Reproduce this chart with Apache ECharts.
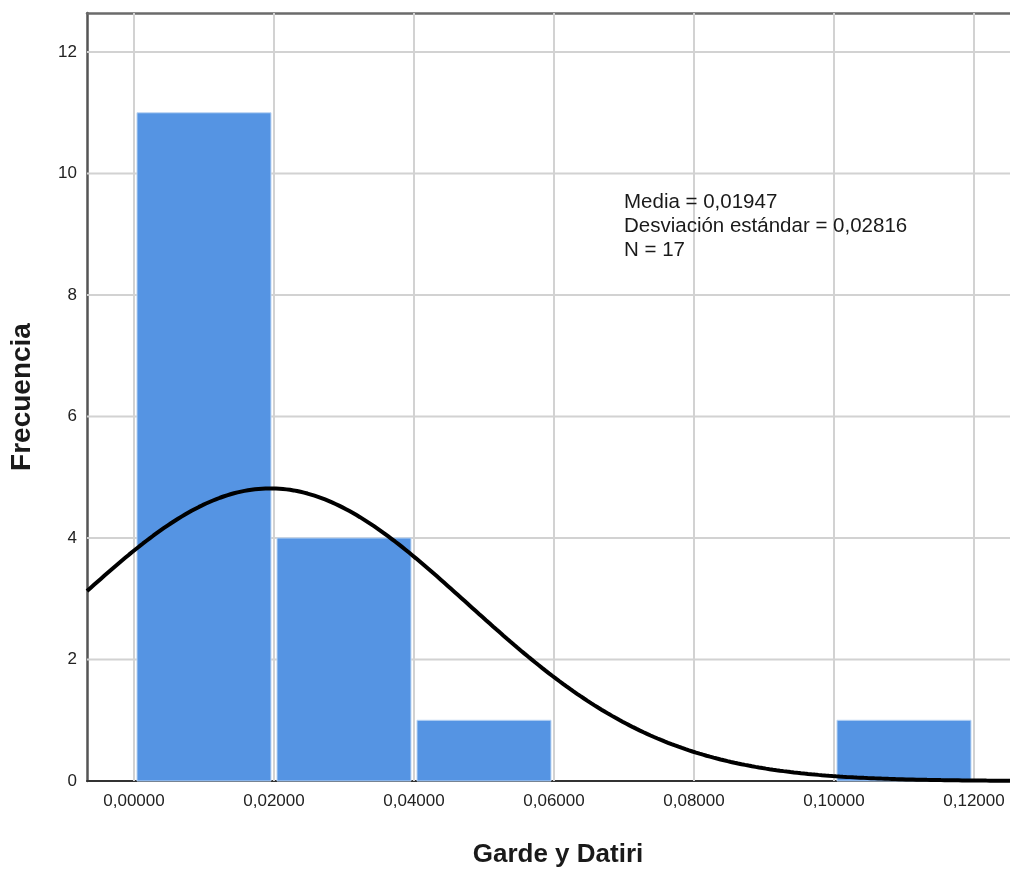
<!DOCTYPE html>
<html>
<head>
<meta charset="utf-8">
<script src="https://cdn.jsdelivr.net/npm/echarts@6/dist/echarts.min.js"></script>
<style>
  html, body { margin: 0; padding: 0; background: #fff; }
  #chart { width: 1010px; height: 871px; }
</style>
</head>
<body>
<div id="chart"></div>
<script>
// Histogram bins (lower edge, upper edge) and frequencies
const binStart = [0.00, 0.02, 0.04, 0.06, 0.08, 0.10];
const binEnd   = [0.02, 0.04, 0.06, 0.08, 0.10, 0.12];
const counts   = [11, 4, 1, 0, 0, 1];

// Summary statistics shown in the annotation
const media = 0.01947;
const desviacion = 0.02816;
const n = 17;
const binWidth = 0.02;

// Axis extents and tick values
const xMin = -0.006714;
const xMax = 0.125143;
const xTicks = [0.00, 0.02, 0.04, 0.06, 0.08, 0.10, 0.12];
const yMin = 0;
const yMax = 12.642;
const yTicks = [0, 2, 4, 6, 8, 10, 12];

// Fitted normal curve scaled to frequency (N * bin width * density)
const normalFreq = x => {
  const z = (x - media) / desviacion;
  return n * binWidth * Math.exp(-0.5 * z * z) / (desviacion * Math.sqrt(2 * Math.PI));
};
const curveStep = 0.0005;
const curve = [];
for (let x = xMin; x < xMax; x += curveStep) curve.push([x, normalFreq(x)]);
curve.push([xMax, normalFreq(xMax)]);

const bars = binStart.map((s, i) => [s, binEnd[i], counts[i]]).filter(d => d[2] > 0);
const comma = v => v.toFixed(5).replace('.', ',');
const FONT = '"Liberation Sans", Arial, sans-serif';

const chart = echarts.init(document.getElementById('chart'), null, { renderer: 'canvas' });
chart.setOption({
  animation: false,
  backgroundColor: '#ffffff',
  textStyle: { fontFamily: FONT },
  grid: { left: 87, right: 0, top: 13, bottom: 90, show: false },
  xAxis: [
    {
      type: 'value',
      min: xMin, max: xMax,
      axisLine: { show: true, onZero: false, lineStyle: { color: '#333', width: 2 } },
      axisTick: { show: false, customValues: xTicks },
      axisLabel: { customValues: xTicks, formatter: v => comma(v), fontSize: 17, color: '#222', margin: 12 },
      splitLine: { show: false }
    },
    {
      // frame line along the top of the plot
      type: 'value',
      position: 'top',
      min: xMin, max: xMax,
      axisLine: { show: true, onZero: false, lineStyle: { color: '#6b6b6b', width: 2.5 } },
      axisTick: { show: false },
      axisLabel: { show: false },
      splitLine: { show: false }
    }
  ],
  yAxis: {
    type: 'value',
    min: yMin, max: yMax,
    axisLine: { show: true, onZero: false, lineStyle: { color: '#555', width: 2.5 } },
    axisTick: { show: false, customValues: yTicks },
    axisLabel: { customValues: yTicks, formatter: v => String(v), fontSize: 17, color: '#222', margin: 10 },
    splitLine: { show: false }
  },
  series: [
    {
      // grid lines at each tick value
      type: 'custom',
      data: xTicks.map(v => [0, v]).concat(yTicks.filter(v => v > 0).map(v => [1, v])),
      z: 1,
      silent: true,
      renderItem: function (params, api) {
        const kind = api.value(0);
        const v = api.value(1);
        let a, b;
        if (kind === 0) {
          a = api.coord([v, yMin]); b = api.coord([v, yMax]);
        } else {
          a = api.coord([xMin, v]); b = api.coord([xMax, v]);
        }
        return {
          type: 'line',
          shape: { x1: a[0], y1: a[1], x2: b[0], y2: b[1] },
          style: { stroke: '#d2d2d2', lineWidth: 2 }
        };
      }
    },
    {
      type: 'custom',
      data: bars,
      z: 2,
      renderItem: function (params, api) {
        const p0 = api.coord([api.value(0), api.value(2)]);
        const p1 = api.coord([api.value(1), 0]);
        const inset = 3;
        return {
          type: 'rect',
          shape: { x: p0[0] + inset, y: p0[1], width: p1[0] - p0[0] - 2 * inset, height: p1[1] - p0[1] },
          style: { fill: '#5594e3', stroke: '#bcd5f3', lineWidth: 1 }
        };
      }
    },
    {
      type: 'line',
      data: curve,
      z: 3,
      showSymbol: false,
      smooth: false,
      clip: true,
      lineStyle: { color: '#000', width: 4 }
    }
  ],
  graphic: [
    {
      type: 'text',
      left: 624,
      top: 190,
      z: 10,
      style: {
        text: 'Media = ' + comma(media) + '\nDesviación estándar = ' + comma(desviacion) + '\nN = ' + n,
        font: '20.5px ' + FONT,
        lineHeight: 24,
        fill: '#1a1a1a'
      }
    },
    {
      type: 'text',
      x: 558,
      y: 855,
      z: 10,
      style: {
        text: 'Garde y Datiri',
        font: 'bold 26px ' + FONT,
        fill: '#1a1a1a',
        align: 'center',
        verticalAlign: 'middle'
      }
    },
    {
      type: 'text',
      x: 22,
      y: 397,
      rotation: Math.PI / 2,
      z: 10,
      style: {
        text: 'Frecuencia',
        font: 'bold 28px ' + FONT,
        fill: '#1a1a1a',
        align: 'center',
        verticalAlign: 'middle'
      }
    }
  ]
});
</script>
</body>
</html>
